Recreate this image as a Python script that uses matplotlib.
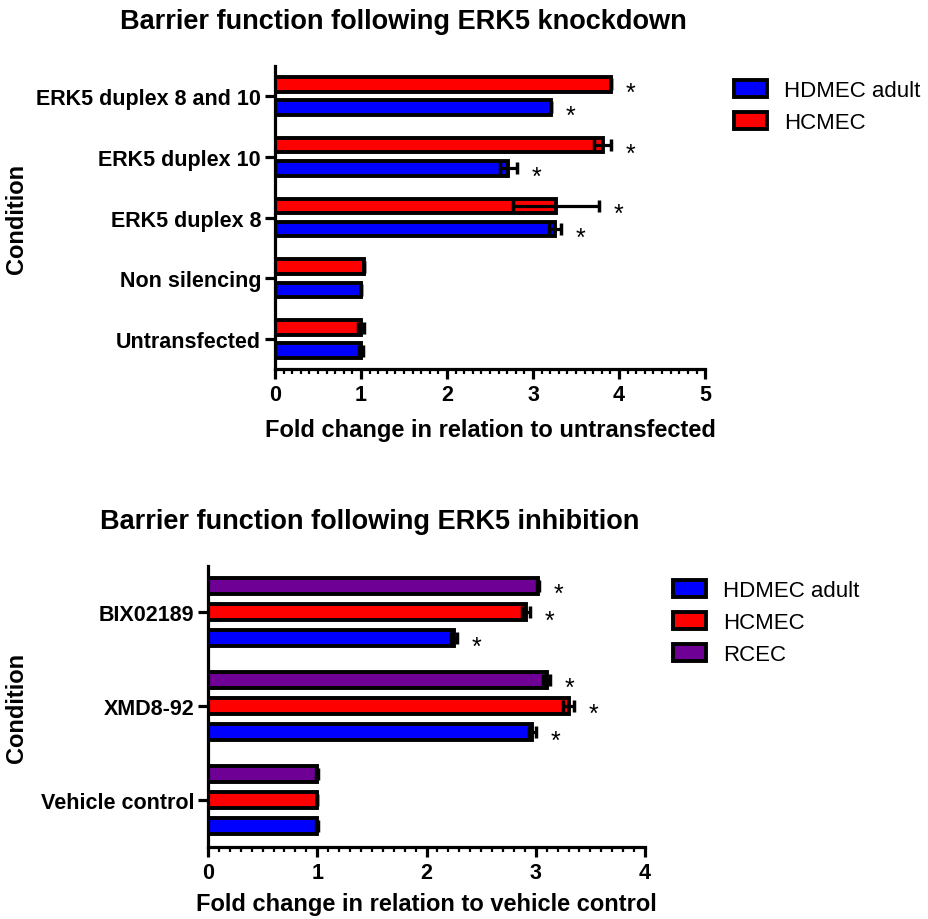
import matplotlib
matplotlib.use("Agg")
import matplotlib.pyplot as plt
from matplotlib.patches import Patch
from matplotlib.ticker import MultipleLocator
import numpy as np

plt.rcParams['font.family'] = ['Liberation Sans', 'DejaVu Sans']

# ---- Knockdown experiment ----
kd_conditions = ["Untransfected", "Non silencing", "ERK5 duplex 8",
                 "ERK5 duplex 10", "ERK5 duplex 8 and 10"]
kd_hdmec = [1.00, 1.00, 3.26, 2.71, 3.21]
kd_hdmec_err = [0.02, 0.00, 0.07, 0.10, 0.00]
kd_hcmec = [1.00, 1.03, 3.27, 3.81, 3.91]
kd_hcmec_err = [0.04, 0.00, 0.50, 0.10, 0.00]
kd_hdmec_sig = [False, False, True, True, True]
kd_hcmec_sig = [False, False, True, True, True]

# ---- Inhibitor experiment ----
inh_conditions = ["Vehicle control", "XMD8-92", "BIX02189"]
inh_hdmec = [1.00, 2.97, 2.25]
inh_hdmec_err = [0.01, 0.03, 0.03]
inh_hcmec = [1.00, 3.30, 2.91]
inh_hcmec_err = [0.00, 0.05, 0.04]
inh_rcec = [1.00, 3.10, 3.02]
inh_rcec_err = [0.01, 0.03, 0.01]
inh_sig = [False, True, True]

BLUE = "#0000FF"
RED = "#FF0000"
PURPLE = "#6F0096"
EDGE_LW = 2.8

fig = plt.figure(figsize=(9.29, 9.20), dpi=100)


def style_axes(ax, xmax):
    for s in ("top", "right"):
        ax.spines[s].set_visible(False)
    for s in ("left", "bottom"):
        ax.spines[s].set_linewidth(2.3)
    ax.set_xlim(0, xmax)
    ax.xaxis.set_major_locator(MultipleLocator(1))
    ax.xaxis.set_minor_locator(MultipleLocator(0.1))
    ax.tick_params(axis="x", which="major", length=7, width=2.3,
                   labelsize=15.5, pad=4)
    ax.tick_params(axis="x", which="minor", length=3.5, width=1.6)
    ax.tick_params(axis="y", which="major", length=7, width=2.3,
                   labelsize=15.5, pad=3)
    for lab in ax.get_xticklabels() + ax.get_yticklabels():
        lab.set_fontweight("bold")


def draw_series(ax, pos, vals, errs, color, height, sig):
    ax.barh(pos, vals, height=height, color=color, edgecolor="black",
            linewidth=EDGE_LW, zorder=2)
    ax.errorbar(vals, pos, xerr=errs, fmt="none", ecolor="black",
                elinewidth=2.3, capsize=4, capthick=2.5, zorder=3)
    for p, v, e, s in zip(pos, vals, errs, sig):
        if s:
            ax.annotate("*", xy=(v + e, p), xytext=(14, -6),
                        textcoords="offset points", ha="center",
                        va="center", fontsize=18)


# ---- top panel ----
ax1 = fig.add_axes([0.296, 0.5978, 0.463, 0.3294])
y1 = np.arange(len(kd_conditions))
draw_series(ax1, y1 + 0.19, kd_hcmec, kd_hcmec_err, RED, 0.24, kd_hcmec_sig)
draw_series(ax1, y1 - 0.19, kd_hdmec, kd_hdmec_err, BLUE, 0.24, kd_hdmec_sig)
ax1.set_ylim(-0.49, len(kd_conditions) - 1 + 0.49)
ax1.set_yticks(y1)
ax1.set_yticklabels(kd_conditions)
style_axes(ax1, 5)
ax1.set_xlabel("Fold change in relation to untransfected", fontsize=17,
               fontweight="bold", labelpad=9)
ax1.set_ylabel("Condition", fontsize=17, fontweight="bold")
ax1.yaxis.set_label_coords(-0.574, 0.5)
fig.text(403 / 929, 1 - 22 / 920, "Barrier function following ERK5 knockdown",
         ha="center", va="center", fontsize=19.5, fontweight="bold")
ax1.legend(handles=[Patch(facecolor=BLUE, edgecolor="black", linewidth=EDGE_LW),
                    Patch(facecolor=RED, edgecolor="black", linewidth=EDGE_LW)],
           labels=["HDMEC adult", "HCMEC"], loc="upper left",
           bbox_to_anchor=(723 / 929, 1 - 70 / 920),
           bbox_transform=fig.transFigure, frameon=False, fontsize=16,
           handlelength=1.5, handleheight=0.75, handletextpad=0.75,
           labelspacing=0.5, borderpad=0)

# ---- bottom panel ----
ax2 = fig.add_axes([0.2239, 0.0783, 0.4704, 0.3054])
y2 = np.arange(len(inh_conditions))
draw_series(ax2, y2 + 0.28, inh_rcec, inh_rcec_err, PURPLE, 0.17, inh_sig)
draw_series(ax2, y2, inh_hcmec, inh_hcmec_err, RED, 0.17, inh_sig)
draw_series(ax2, y2 - 0.28, inh_hdmec, inh_hdmec_err, BLUE, 0.17, inh_sig)
ax2.set_ylim(-0.5, len(inh_conditions) - 1 + 0.49)
ax2.set_yticks(y2)
ax2.set_yticklabels(inh_conditions)
style_axes(ax2, 4)
ax2.set_xlabel("Fold change in relation to vehicle control", fontsize=17,
               fontweight="bold", labelpad=6)
ax2.set_ylabel("Condition", fontsize=17, fontweight="bold")
ax2.yaxis.set_label_coords(-0.412, 0.5)
fig.text(370 / 929, 1 - 522 / 920, "Barrier function following ERK5 inhibition",
         ha="center", va="center", fontsize=19.5, fontweight="bold")
ax2.legend(handles=[Patch(facecolor=BLUE, edgecolor="black", linewidth=EDGE_LW),
                    Patch(facecolor=RED, edgecolor="black", linewidth=EDGE_LW),
                    Patch(facecolor=PURPLE, edgecolor="black", linewidth=EDGE_LW)],
           labels=["HDMEC adult", "HCMEC", "RCEC"], loc="upper left",
           bbox_to_anchor=(662 / 929, 1 - 570 / 920),
           bbox_transform=fig.transFigure, frameon=False, fontsize=16,
           handlelength=1.5, handleheight=0.75, handletextpad=0.75,
           labelspacing=0.5, borderpad=0)

fig.savefig("out.png", dpi=100)
